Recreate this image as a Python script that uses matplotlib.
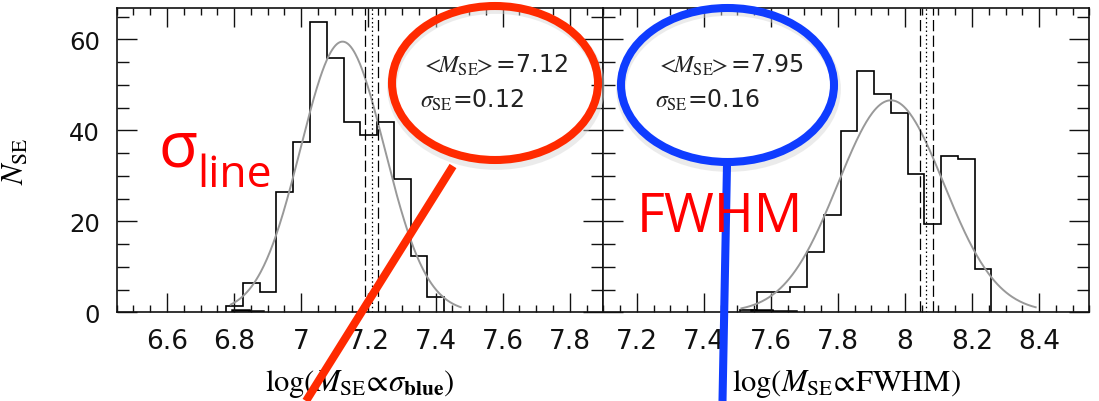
import matplotlib
matplotlib.use("Agg")
import numpy as np
import matplotlib.pyplot as plt
from matplotlib.patches import Ellipse
from matplotlib.ticker import MultipleLocator, FuncFormatter

plt.rcParams["mathtext.fontset"] = "stix"
plt.rcParams["font.family"] = ["DejaVu Sans"]

# ---- data ---------------------------------------------------------------
# left panel: log(M_SE ~ sigma_blue)
sig_edges = [6.776, 6.826, 6.876, 6.926, 6.976, 7.026, 7.076, 7.126,
             7.176, 7.226, 7.276, 7.326, 7.376, 7.426]
sig_counts = [1.3, 6.4, 4.4, 26.5, 37.5, 63.9, 56.0, 41.8, 38.9, 41.8,
              29.4, 12.4, 3.4]
sig_low_edges = [6.793, 6.843, 6.886]
sig_low_counts = [0.4, 0.3]
sig_fit = dict(mean=7.123, sigma=0.125, amp=59.5, lo=6.79, hi=7.475)
sig_vlines_dash = [7.19, 7.23]
sig_vline_dot = 7.21

# right panel: log(M_SE ~ FWHM)
fw_edges = [7.508, 7.558, 7.608, 7.658, 7.708, 7.758, 7.808, 7.858, 7.908,
            7.958, 8.008, 8.058, 8.108, 8.158, 8.208, 8.258]
fw_counts = [0.5, 4.5, 4.5, 5.5, 13.2, 21.4, 39.9, 53.0, 47.9, 43.8, 30.5,
             19.5, 34.4, 33.8, 9.5]
fw_low_edges = [7.542, 7.602, 7.676]
fw_low_counts = [0.4, 0.2]
fw_fit = dict(mean=7.958, sigma=0.158, amp=46.6, lo=7.512, hi=8.39)
fw_vlines_dash = [8.045, 8.083]
fw_vline_dot = 8.062

RED = "#ff2a00"
BLUE = "#0f3cff"

W, H = 1099, 402
fig = plt.figure(figsize=(W / 100, H / 100), dpi=100)
ax1 = fig.add_axes([116.7 / W, 88.7 / H, 486.6 / W, 304.8 / H])
ax2 = fig.add_axes([603.3 / W, 88.7 / H, 486.0 / W, 304.8 / H])


def draw_panel(ax, edges, counts, low_edges, low_counts, fit, dashes, dot, xlim):
    ax.stairs(counts, edges, color="k", lw=1.2)
    ax.stairs(low_counts, low_edges, color="k", lw=1.8)
    xs = np.linspace(fit["lo"], fit["hi"], 300)
    ys = fit["amp"] * np.exp(-0.5 * ((xs - fit["mean"]) / fit["sigma"]) ** 2)
    ax.plot(xs, ys, color="#999999", lw=1.4)
    for x in dashes:
        ax.axvline(x, color="k", lw=0.9, dashes=(9, 3.5))
    ax.axvline(dot, color="k", lw=0.9, dashes=(1.2, 2.2))
    ax.set_xlim(*xlim)
    ax.set_ylim(0, 67)
    ax.xaxis.set_major_locator(MultipleLocator(0.2))
    ax.xaxis.set_minor_locator(MultipleLocator(0.05))
    ax.yaxis.set_major_locator(MultipleLocator(20))
    ax.yaxis.set_minor_locator(MultipleLocator(5))
    ax.xaxis.set_major_formatter(FuncFormatter(lambda v, p: f"{v:g}"))
    ax.tick_params(which="both", direction="in", top=True, right=True,
                   width=1.0, colors="#111111")
    ax.tick_params(axis="x", which="major", length=13.5, labelsize=19, pad=11)
    ax.tick_params(axis="x", which="minor", length=5)
    ax.tick_params(axis="y", which="major", length=14.5, labelsize=17.5, pad=12)
    ax.tick_params(axis="y", which="minor", length=8.4)
    for s in ax.spines.values():
        s.set_linewidth(1.2)
        s.set_color("#111111")


draw_panel(ax1, sig_edges, sig_counts, sig_low_edges, sig_low_counts,
           sig_fit, sig_vlines_dash, sig_vline_dot, (6.45, 7.9))
draw_panel(ax2, fw_edges, fw_counts, fw_low_edges, fw_low_counts,
           fw_fit, fw_vlines_dash, fw_vline_dot, (7.1, 8.55))
ax2.tick_params(axis="y", labelleft=False)

ax1.set_xlabel(r"$\mathrm{log}(M_{\mathrm{SE}}\!\propto\!\sigma_{\mathbf{blue}})$",
               fontsize=22)
ax2.set_xlabel(r"$\mathrm{log}(M_{\mathrm{SE}}\!\propto\!\mathrm{FWHM})$",
               fontsize=22)
for ax in (ax1, ax2):
    ax.xaxis.set_label_coords(0.5, -0.18)
ax1.set_ylabel(r"$N_{\mathrm{SE}}$", fontsize=22)
ax1.yaxis.set_label_coords(-0.178, 0.5)

# ---- slide annotations on top (pixel coordinates) -----------------------
ov = fig.add_axes([0, 0, 1, 1], zorder=10)
ov.set_xlim(0, W)
ov.set_ylim(H, 0)
ov.axis("off")
ov.patch.set_alpha(0)

ov.text(158, 167, "σ", color="red", fontsize=46,
        family=["Open Sans", "DejaVu Sans"], va="baseline")
ov.text(197, 187, "line", color="red", fontsize=32,
        family=["Open Sans", "DejaVu Sans"], va="baseline")
ov.text(637, 232, "FWHM", color="red", fontsize=39,
        family=["Open Sans", "DejaVu Sans"], va="baseline")

for cx, cy, w, col in [(495, 84, 206, RED), (727.5, 86, 213, BLUE)]:
    ov.add_patch(Ellipse((cx + 1, cy + 4), w + 2, 156,
                         fill=False, ec="#d4d4d4", lw=7, alpha=0.45))
    ov.add_patch(Ellipse((cx, cy), w, 154, fill=False, ec=col, lw=5.8))

ov.text(421, 73, r"$<\!\!M_{\mathrm{SE}}\!\!>$=7.12", fontsize=17,
        color="#222222", va="baseline")
ov.text(420, 108, r"$\sigma_{\mathrm{SE}}$=0.12", fontsize=17,
        color="#222222", va="baseline")
ov.text(656, 73, r"$<\!\!M_{\mathrm{SE}}\!\!>$=7.95", fontsize=17,
        color="#222222", va="baseline")
ov.text(655, 108, r"$\sigma_{\mathrm{SE}}$=0.16", fontsize=17,
        color="#222222", va="baseline")

ov.plot([453, 306], [167, 402], color=RED, lw=5.8, solid_capstyle="butt")
ov.plot([727, 722.5], [166, 402], color=BLUE, lw=5.8, solid_capstyle="butt")

fig.savefig("out.png", dpi=100)
